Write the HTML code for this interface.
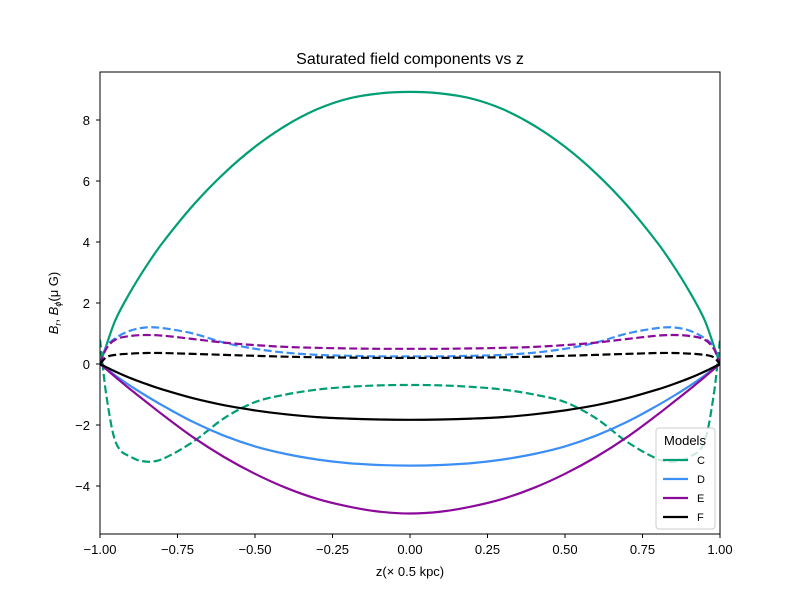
<!DOCTYPE html>
<html><head><meta charset="utf-8"><style>
body{margin:0;background:#fff}
svg text{font-family:"Liberation Sans","DejaVu Sans",sans-serif;fill:#000}
</style></head><body>
<svg id="chart" width="800" height="600" xmlns="http://www.w3.org/2000/svg">
<rect width="800" height="600" fill="#fff"/>
<text x="410" y="64" font-size="16" text-anchor="middle">Saturated field components vs z</text>
<g id="plot"></g>
<rect x="100" y="72" width="620" height="462" fill="none" stroke="#000" stroke-width="1"/>
<g id="ticks"></g>
<text x="410" y="576" font-size="13" text-anchor="middle">z(× 0.5 kpc)</text>
<text transform="translate(58,303) rotate(-90)" font-size="13" text-anchor="middle"><tspan font-style="italic">B</tspan><tspan font-size="9" dy="3" font-style="italic">r</tspan><tspan dy="-3">, </tspan><tspan font-style="italic">B</tspan><tspan font-size="9" dy="3" font-style="italic">ϕ</tspan><tspan dy="-3">(μ G)</tspan></text>
<g>
<rect x="656" y="428" width="59" height="101" rx="3" fill="#fff" fill-opacity="0.8" stroke="#ccc"/>
<text x="685" y="445" font-size="13" text-anchor="middle">Models</text>
<g id="legend-items"></g>
</g>
</svg>
<script>
const xs=[-1,-0.98,-0.95,-0.9,-0.85,-0.8,-0.7,-0.6,-0.5,-0.4,-0.3,-0.2,-0.1,0,0.1,0.2,0.3,0.4,0.5,0.6,0.7,0.8,0.85,0.9,0.95,0.98,1];
const seriesNames=["C","D","E","F"];
const colors=["#009e73","#3a8ef6","#8b0a9b","#000000"];
const solidC=[0,0.6,1.45,2.4,3.22,3.95,5.2,6.25,7.12,7.82,8.35,8.7,8.87,8.92,8.87,8.7,8.35,7.82,7.12,6.25,5.2,3.95,3.22,2.4,1.45,0.6,0];
const solidD=[0,-0.15,-0.38,-0.73,-1.05,-1.35,-1.9,-2.35,-2.7,-2.95,-3.13,-3.25,-3.31,-3.33,-3.31,-3.25,-3.13,-2.95,-2.7,-2.35,-1.9,-1.35,-1.05,-0.73,-0.38,-0.15,0];
const solidE=[0,-0.17,-0.43,-0.85,-1.25,-1.65,-2.4,-3.05,-3.6,-4.06,-4.42,-4.67,-4.84,-4.9,-4.84,-4.67,-4.42,-4.06,-3.6,-3.05,-2.4,-1.65,-1.25,-0.85,-0.43,-0.17,0];
const solidF=[0,-0.1,-0.25,-0.47,-0.66,-0.83,-1.12,-1.35,-1.52,-1.65,-1.74,-1.79,-1.82,-1.83,-1.82,-1.79,-1.74,-1.65,-1.52,-1.35,-1.12,-0.83,-0.66,-0.47,-0.25,-0.1,0];
const dashC=[0.8,-1.0,-2.55,-3.05,-3.2,-3.12,-2.55,-1.78,-1.25,-1.0,-0.84,-0.75,-0.7,-0.69,-0.7,-0.75,-0.84,-1.0,-1.25,-1.78,-2.55,-3.12,-3.2,-3.05,-2.55,-1.0,0.8];
const dashD=[0,0.55,0.85,1.1,1.2,1.18,1.0,0.7,0.5,0.37,0.3,0.27,0.25,0.25,0.25,0.27,0.3,0.37,0.5,0.7,1.0,1.18,1.2,1.1,0.85,0.55,0];
const dashE=[0,0.5,0.8,0.92,0.95,0.93,0.82,0.7,0.62,0.56,0.53,0.51,0.5,0.5,0.5,0.51,0.53,0.56,0.62,0.7,0.82,0.93,0.95,0.92,0.8,0.5,0];
const dashF=[0,0.22,0.3,0.34,0.36,0.36,0.33,0.3,0.27,0.24,0.22,0.21,0.2,0.2,0.2,0.21,0.22,0.24,0.27,0.3,0.33,0.36,0.36,0.34,0.3,0.22,0];
const xTicks=[-1,-0.75,-0.5,-0.25,0,0.25,0.5,0.75,1];
const xTickLabels=["−1.00","−0.75","−0.50","−0.25","0.00","0.25","0.50","0.75","1.00"];
const yTicks=[-4,-2,0,2,4,6,8];
const yTickLabels=["−4","−2","0","2","4","6","8"];

const NS="http://www.w3.org/2000/svg";
const X=v=>100+(v+1)/2*620;
const Y=v=>364-v*30.5;
function mk(tag,attrs,parent){const e=document.createElementNS(NS,tag);for(const k in attrs)e.setAttribute(k,attrs[k]);parent.appendChild(e);return e;}
const plot=document.getElementById("plot");
const clip=mk("clipPath",{id:"cp"},plot);mk("rect",{x:100,y:72,width:620,height:462},clip);
const solids=[solidC,solidD,solidE,solidF];
const dashes=[dashC,dashD,dashE,dashF];
function pathD(vals){
  const P=vals.map((v,i)=>[X(xs[i]),Y(v)]);
  const n=P.length;
  const m=P.map((p,i)=>{
    const a=P[Math.max(0,i-1)],b=P[Math.min(n-1,i+1)];
    return (b[1]-a[1])/(b[0]-a[0]);
  });
  let d="M"+P[0][0].toFixed(1)+","+P[0][1].toFixed(1);
  for(let i=0;i<n-1;i++){
    const h=(P[i+1][0]-P[i][0])/3;
    d+="C"+(P[i][0]+h).toFixed(1)+","+(P[i][1]+m[i]*h).toFixed(1)+" "+(P[i+1][0]-h).toFixed(1)+","+(P[i+1][1]-m[i+1]*h).toFixed(1)+" "+P[i+1][0].toFixed(1)+","+P[i+1][1].toFixed(1);
  }
  return d;
}
for(let s=0;s<4;s++){
  const p=mk("path",{d:pathD(solids[s]),fill:"none",stroke:colors[s],"stroke-width":2.2,"stroke-linejoin":"round","clip-path":"url(#cp)"},plot);
  
  
  const q=mk("path",{d:pathD(dashes[s]),fill:"none",stroke:colors[s],"stroke-width":2.2,"stroke-dasharray":"8,3.5","stroke-linejoin":"round","clip-path":"url(#cp)"},plot);
  
  
}
const tk=document.getElementById("ticks");
xTicks.forEach((v,i)=>{
  const l=mk("line",{x1:X(v),x2:X(v),y1:534,y2:538,stroke:"#000"},tk);
  
  
  const t=mk("text",{x:X(v),y:554,"font-size":13,"text-anchor":"middle"},tk);t.textContent=xTickLabels[i];
  
  
});
yTicks.forEach((v,i)=>{
  const l=mk("line",{x1:96,x2:100,y1:Y(v),y2:Y(v),stroke:"#000"},tk);
  
  
  const t=mk("text",{x:90,y:Y(v)+5,"font-size":13,"text-anchor":"end"},tk);t.textContent=yTickLabels[i];
  
  
});
const lg=document.getElementById("legend-items");
seriesNames.forEach((n,i)=>{
  const y=460+i*19;
  const l=mk("line",{x1:663,x2:688,y1:y,y2:y,stroke:colors[i],"stroke-width":2.2},lg);
  
  
  const t=mk("text",{x:697,y:y+4,"font-size":11},lg);t.textContent=n;
  
  
});
</script>
</body></html>
